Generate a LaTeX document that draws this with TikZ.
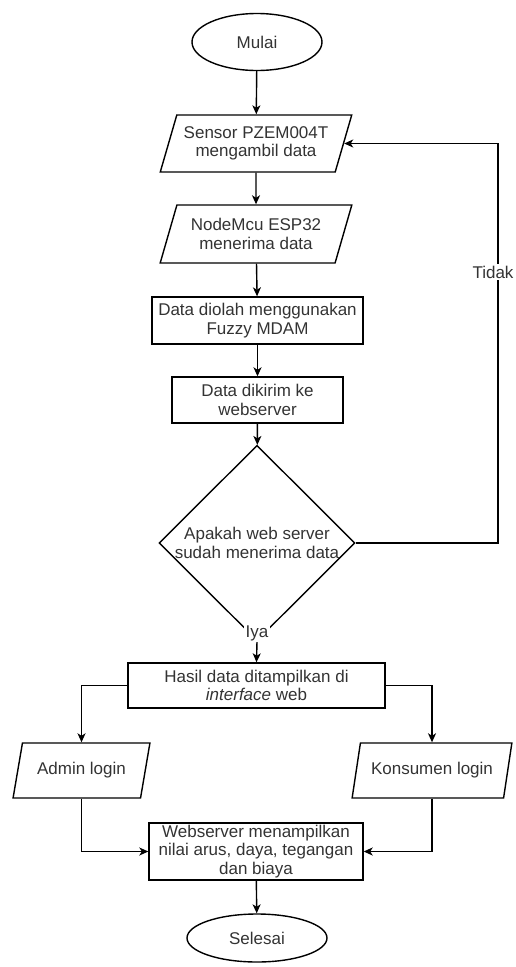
\documentclass[tikz,border=0pt]{standalone}
\usepackage{fontspec}
\setmainfont{Liberation Sans}
\usetikzlibrary{shapes.geometric,arrows.meta}
\definecolor{FCtext}{HTML}{333333}

\begin{document}
\begin{tikzpicture}[x=1pt, y=-1pt, line width=1.4pt,
    every node/.style={font=\fontsize{17}{18.5}\selectfont, text=FCtext, align=center, inner sep=0pt},
    terminal/.style={draw, ellipse},
    io/.style={draw, trapezium, trapezium left angle=66, trapezium right angle=114, trapezium stretches=true},
    process/.style={draw, rectangle},
    decision/.style={draw, diamond},
    flow/.style={-{Stealth[length=9pt,width=8pt,inset=2.5pt]}},
    lbl/.style={fill=white, inner sep=1.5pt}]
  \useasboundingbox (0,0) rectangle (515,967);
  % nodes
  \node[terminal, minimum width=130, minimum height=57] (mulai) at (257,42) {Mulai};
  \node[io, minimum width=192, minimum height=57] (sensor) at (256,143.5) {Sensor PZEM004T\\mengambil data};
  \node[io, minimum width=192, minimum height=58] (nodemcu) at (256,234) {NodeMcu ESP32\\menerima data};
  \node[process, minimum width=211, minimum height=47] (olah) at (257.5,320.5) {Data diolah menggunakan\\Fuzzy MDAM};
  \node[process, minimum width=171, minimum height=46] (kirim) at (257.5,400) {Data dikirim ke\\webserver};
  \node[decision, minimum width=196, minimum height=149] (cek) at (257,543) {Apakah web server\\sudah menerima data};
  \node[process, minimum width=257, minimum height=45] (hasil) at (256.5,685.5) {Hasil data ditampilkan di\\\textit{interface} web};
  \node[io, minimum width=137, minimum height=55] (admin) at (81.5,770.5) {Admin login};
  \node[io, minimum width=160, minimum height=55] (konsumen) at (432,770.5) {Konsumen login};
  \node[process, minimum width=214, minimum height=57] (tampil) at (256,851.5) {Webserver menampilkan\\nilai arus, daya, tegangan\\dan biaya};
  \node[terminal, minimum width=140, minimum height=48] (selesai) at (257,938) {Selesai};
  \coordinate (balik) at (498,543);
  % connectors
  \draw[flow] (mulai) -- (sensor);
  \draw[flow] (sensor) -- (nodemcu);
  \draw[flow] (nodemcu) -- (olah);
  \draw[flow] (olah) -- (kirim);
  \draw[flow] (kirim) -- (cek);
  \draw[flow] (cek.east) -- (balik) |- (sensor.east);
  \node[lbl] (tidak) at (493,272) {Tidak};
  \draw[flow] (cek.south) -- (hasil.north);
  \node[lbl] (iya) at (257,633) {Iya};
  \draw[flow] (hasil.west) -| (admin.north);
  \draw[flow] (hasil.east) -| (konsumen.north);
  \draw[flow] (admin.south) |- (tampil.west);
  \draw[flow] (konsumen.south) |- (tampil.east);
  \draw[flow] (tampil) -- (selesai);
\end{tikzpicture}
\end{document}
